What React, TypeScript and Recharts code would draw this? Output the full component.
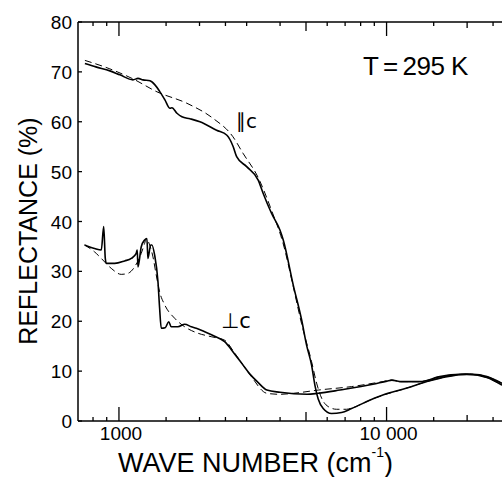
import React from "react";
import { LineChart, Line, XAxis, YAxis } from "recharts";

// E || c, measured
const parWn = [746, 820, 925, 1009, 1128, 1178, 1229, 1306, 1363, 1423, 1485, 1551, 1578, 1647, 1719, 1842, 2007, 2317, 2532, 2673, 2753, 3000, 3314, 3460, 3719, 3995, 4111, 4478, 4814, 5025, 5246, 5397, 5553, 5797, 6230, 6789, 7400, 9043, 9687, 11908, 14146, 16801, 19953, 23700, 26964];
const parR = [71.7, 71.0, 70.2, 69.4, 68.4, 68.7, 68.4, 68.2, 67.4, 66.0, 64.4, 62.7, 62.8, 61.7, 61.0, 60.6, 60.0, 58.3, 57.3, 55.0, 53.0, 51.0, 48.3, 45.6, 41.6, 38.3, 36.3, 27.3, 20.3, 15.2, 11.2, 7.2, 4.4, 2.5, 1.5, 1.7, 2.5, 4.6, 5.2, 6.6, 7.9, 8.9, 9.4, 8.7, 7.2];

// E || c, fit (dashed)
const parFitWn = [746, 925, 1128, 1387, 1795, 2245, 2666, 2906, 3314, 3719, 4111, 4478, 4814, 5246, 5477, 5717, 6050, 6503, 7088, 7400, 9043, 11908, 14146, 16801, 19953, 23700, 26964];
const parFitR = [72.3, 70.6, 68.6, 66.0, 63.7, 60.7, 57.0, 53.7, 48.8, 42.2, 35.5, 27.0, 19.5, 11.9, 7.6, 4.6, 2.9, 2.35, 2.35, 2.6, 4.6, 6.6, 7.9, 8.9, 9.4, 8.7, 7.2];

// E ⊥ c, measured
const perpWn = [744, 811, 859, 877, 889, 897, 964, 1050, 1112, 1160, 1170, 1178, 1211, 1247, 1272, 1283, 1314, 1328, 1359, 1399, 1419, 1439, 1489, 1534, 1568, 1661, 1760, 1863, 1945, 2090, 2278, 2482, 2700, 2900, 3086, 3300, 3572, 3995, 5039, 5553, 6693, 8889, 10026, 10466, 11211, 13316, 15817, 18785, 21011, 23700, 26964];
const perpR = [35.3, 34.6, 34.3, 39.0, 32.6, 31.6, 31.6, 32.1, 32.6, 33.6, 34.3, 30.9, 34.9, 36.3, 36.6, 32.6, 35.3, 35.3, 33.3, 27.9, 22.6, 18.6, 18.7, 19.9, 18.9, 18.9, 19.4, 18.9, 18.6, 17.9, 17.0, 15.9, 13.5, 11.3, 9.4, 7.8, 6.2, 5.75, 5.35, 5.55, 6.2, 7.35, 8.0, 8.2, 7.9, 7.9, 8.9, 9.35, 9.35, 8.9, 7.55];

// E ⊥ c, fit (dashed)
const perpFitWn = [744, 811, 859, 936, 1020, 1080, 1144, 1211, 1247, 1265, 1302, 1340, 1378, 1419, 1482, 1615, 1760, 1973, 2212, 2482, 2700, 3086, 3572, 3995, 4478, 5553, 7400, 9687, 10466, 11211, 13316, 15817, 18785, 21011, 23700, 26964];
const perpFitR = [35.3, 33.9, 32.6, 30.6, 29.4, 29.6, 30.9, 33.6, 35.6, 36.6, 35.3, 32.9, 29.3, 25.9, 23.3, 20.6, 18.9, 17.6, 16.9, 16.2, 13.7, 9.3, 5.55, 5.35, 5.55, 6.2, 6.9, 7.9, 8.2, 7.9, 7.9, 8.9, 9.35, 9.35, 8.9, 7.55];

const xTicks = [800, 900, 1000, 1500, 2000, 2500, 3000, 4000, 5000, 6000, 7000, 8000, 9000, 10000, 15000, 20000, 25000];
const xLabels: Record<number, string> = { 1000: "1000", 10000: "10 000" };
const yTicks = [0, 10, 20, 30, 40, 50, 60, 70, 80];

const zip = (xs: number[], ys: number[]) => xs.map((wn, i) => ({ wn, r: ys[i] }));

const FONT = "'Liberation Sans', Arial, Helvetica, sans-serif";

const tickLen = (v: number) => {
  if (v === 1000 || v === 10000) return 14;
  if (v === 5000) return 9;
  if (v === 20000) return 6;
  return 4;
};

const BottomTick = (props: any) => {
  const { x, y, payload } = props;
  const v = payload.value;
  return (
    <g>
      <line x1={x} y1={y} x2={x} y2={y - tickLen(v)} stroke="#000" strokeWidth={1.3} />
      {xLabels[v] && (
        <text x={x + 2} y={y + 19} textAnchor="middle" fontSize={19} fontFamily={FONT} fill="#000">
          {xLabels[v]}
        </text>
      )}
    </g>
  );
};

const TopTick = (props: any) => {
  const { x, y, payload } = props;
  return <line x1={x} y1={y} x2={x} y2={y + tickLen(payload.value)} stroke="#000" strokeWidth={1.3} />;
};

const LeftTick = (props: any) => {
  const { x, y, payload } = props;
  return (
    <g>
      <line x1={x} y1={y} x2={x + 4} y2={y} stroke="#000" strokeWidth={1.3} />
      <text x={x - 6} y={y + 7} textAnchor="end" fontSize={19} fontFamily={FONT} fill="#000">
        {payload.value}
      </text>
    </g>
  );
};

export default function App() {
  return (
    <div style={{ position: "absolute", left: 0, top: 0, width: 502, height: 477, background: "#fff", overflow: "hidden" }}>
      <LineChart width={502} height={477} margin={{ top: 0, right: 0, bottom: 0, left: 0 }}>
        <XAxis
          xAxisId="b"
          dataKey="wn"
          type="number"
          scale="log"
          domain={[703, 27000]}
          allowDataOverflow
          ticks={xTicks}
          interval={0}
          height={56}
          tickSize={0}
          tickMargin={0}
          tick={<BottomTick />}
          axisLine={{ stroke: "#000", strokeWidth: 1.5 }}
          label={{
            content: () => (
              <text x={118} y={472} fontSize={27} fontFamily={FONT} fill="#000">
                WAVE NUMBER (cm
                <tspan fontSize={14} dy={-15}>-1</tspan>
                <tspan dy={15}>)</tspan>
              </text>
            ),
          }}
        />
        <XAxis
          xAxisId="t"
          orientation="top"
          dataKey="wn"
          type="number"
          scale="log"
          domain={[703, 27000]}
          allowDataOverflow
          ticks={xTicks}
          interval={0}
          height={22}
          tickSize={0}
          tickMargin={0}
          tick={<TopTick />}
          axisLine={{ stroke: "#000", strokeWidth: 1.5 }}
        />
        <YAxis
          type="number"
          domain={[0, 80]}
          ticks={yTicks}
          interval={0}
          width={78}
          tickSize={0}
          tickMargin={0}
          tick={<LeftTick />}
          axisLine={{ stroke: "#000", strokeWidth: 1.5 }}
          label={{
            content: () => (
              <text x={37} y={231} transform="rotate(-90 37 231)" textAnchor="middle" fontSize={25} fontFamily={FONT} fill="#000">
                REFLECTANCE (%)
              </text>
            ),
          }}
        />
        <Line xAxisId="b" data={zip(parWn, parR)} dataKey="r" type="monotone" stroke="#000" strokeWidth={1.6} dot={false} isAnimationActive={false} />
        <Line xAxisId="b" data={zip(parFitWn, parFitR)} dataKey="r" type="monotone" stroke="#000" strokeWidth={1} strokeDasharray="7 4" dot={false} isAnimationActive={false} />
        <Line xAxisId="b" data={zip(perpWn, perpR)} dataKey="r" type="monotone" stroke="#000" strokeWidth={1.6} dot={false} isAnimationActive={false} />
        <Line xAxisId="b" data={zip(perpFitWn, perpFitR)} dataKey="r" type="monotone" stroke="#000" strokeWidth={1} strokeDasharray="7 4" dot={false} isAnimationActive={false} />
      </LineChart>
      <svg width={502} height={477} style={{ position: "absolute", left: 0, top: 0, pointerEvents: "none" }}>
        <text x={363} y={75} fontSize={26} letterSpacing={-0.5} fontFamily={FONT} fill="#000">T{"\u2009"}={"\u2009"}295 K</text>
        <text x={236} y={128} fontSize={20} fontFamily="'DejaVu Sans', sans-serif" fill="#000">∥c</text>
        <text x={221} y={328} fontSize={21} fontFamily="'DejaVu Sans', sans-serif" fill="#000">⊥c</text>
      </svg>
    </div>
  );
}
